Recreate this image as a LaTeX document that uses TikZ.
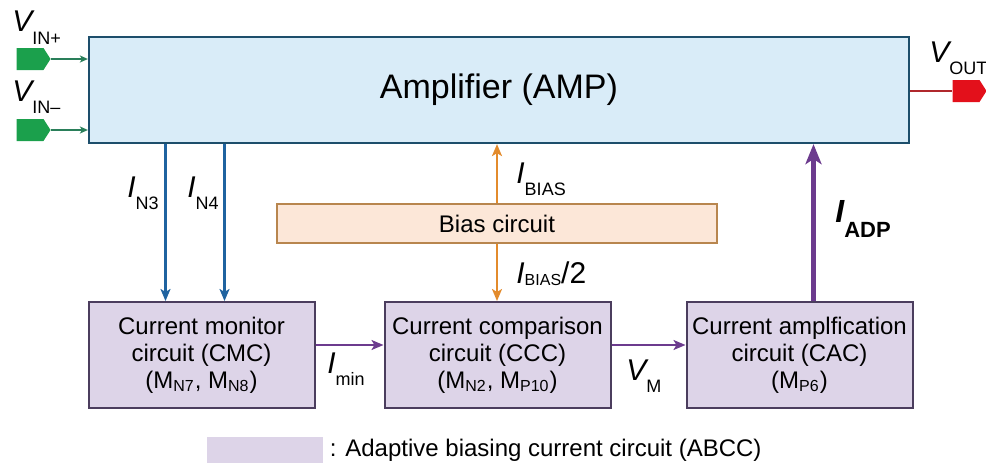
\documentclass[tikz,border=0pt]{standalone}
\usepackage{fontspec}
\setmainfont{Liberation Sans}
\usepackage{xcolor}
\usetikzlibrary{positioning,shapes.symbols,arrows.meta}
\definecolor{ampfill}{HTML}{D9ECF8}
\definecolor{ampline}{HTML}{1D4E6B}
\definecolor{padgreen}{HTML}{1BA04C}
\definecolor{wiregreen}{HTML}{2A7F5A}
\definecolor{padred}{HTML}{E3101B}
\definecolor{wirered}{HTML}{B0282C}
\definecolor{monblue}{HTML}{1F63A0}
\definecolor{biasfill}{HTML}{FCE7D8}
\definecolor{biasline}{HTML}{B8864E}
\definecolor{biasorange}{HTML}{E38B2C}
\definecolor{abccfill}{HTML}{DDD4E8}
\definecolor{abccline}{HTML}{4B3D5E}
\definecolor{abccarrow}{HTML}{6C3B8E}

% signal label: big italic letter with a lowered subscript
\newcommand{\sig}[2]{{\fontsize{15}{15}\selectfont\itshape #1}\raisebox{-6pt}{\fontsize{9}{9}\selectfont #2}}

\begin{document}
\begin{tikzpicture}[
        x=0.5pt, y=-0.5pt,
        ampbox/.style={
            draw=ampline,
            fill=ampfill,
            line width=1.1pt,
            minimum width=410pt,
            minimum height=53pt,
            font=\fontsize{17}{20}\selectfont
        },
        biasbox/.style={
            draw=biasline,
            fill=biasfill,
            line width=1pt,
            minimum width=220pt,
            minimum height=19.5pt,
            font=\fontsize{12}{14}\selectfont
        },
        abcc/.style={
            draw=abccline,
            fill=abccfill,
            line width=1pt,
            minimum width=113pt,
            minimum height=53pt,
            inner sep=2pt,
            align=center,
            font=\fontsize{12}{13.5}\selectfont
        },
        pad/.style={
            signal,
            signal to=east,
            signal pointer angle=115,
            minimum width=17pt,
            minimum height=11pt,
            inner sep=0pt
        },
        sig/.style={
            anchor=base west,
            inner sep=0pt
        },
        ref/.style={
            ->,
            >={Stealth[length=6pt,width=5pt,inset=1.5pt]},
            line width=1.1pt
        },
        wire/.style={
            ->,
            >={Stealth[length=4pt,width=3.5pt,inset=1pt]},
            line width=0.9pt
        },
        adp/.style={
            ->,
            >={Stealth[length=10pt,width=8pt,inset=2.5pt]},
            line width=2.4pt
        }
    ]

    \useasboundingbox (0,0) rectangle (986,466);

    \node[ampbox] (amp) at (499,90) {Amplifier (AMP)};
    \node[biasbox] (bias) at (497,223.5) {Bias circuit};

    \node[abcc] (cmc) at (201.5,355) {Current monitor\\circuit (CMC)\\(M\textsubscript{N7}, M\textsubscript{N8})};
    \node[abcc, right=34pt of cmc] (ccc) {Current comparison\\circuit (CCC)\\(M\textsubscript{N2}, M\textsubscript{P10})};
    \node[abcc, right=37pt of ccc] (cac) {Current amplfication\\circuit (CAC)\\(M\textsubscript{P6})};

    % input and output pads
    \node[pad, fill=padgreen] (vinp) at (30,59) {};
    \node[pad, fill=padgreen] (vinm) at (30,130) {};
    \node[pad, fill=padred] (vout) at (966,91) {};

    \draw[wire, wiregreen] (vinp.east) -- (vinp.east -| amp.west);
    \draw[wire, wiregreen] (vinm.east) -- (vinm.east -| amp.west);
    \draw[wirered, line width=1.1pt] (vout.west -| amp.east) -- (vout.west);

    % monitored currents
    \coordinate (n3) at ([xshift=39pt]cmc.north west);
    \coordinate (n4) at ([xshift=68.5pt]cmc.north west);
    \draw[ref, monblue] (n3 |- amp.south) -- (n3);
    \draw[ref, monblue] (n4 |- amp.south) -- (n4);

    % bias currents
    \draw[ref, biasorange] (bias.north) -- (bias.north |- amp.south);
    \draw[ref, biasorange] (bias.south) -- (bias.south |- ccc.north);

    % adaptive biasing chain
    \draw[ref, abccarrow] ([yshift=5pt]cmc.east) -- ([yshift=5pt]cmc.east -| ccc.west);
    \draw[ref, abccarrow] ([yshift=5pt]ccc.east) -- ([yshift=5pt]ccc.east -| cac.west);
    \draw[adp, abccarrow] ([xshift=7pt]cac.north) -- ([xshift=7pt]cac.north |- amp.south);

    % labels
    \node[sig] (lvinp) at (12,32) {\sig{V}{IN+}};
    \node[sig] (lvinm) at (12,101) {\sig{V}{IN--}};
    \node[sig] (lvout) at (929,62) {\sig{V}{OUT}};
    \node[sig] (ln3) at (127,197) {\sig{I}{N3}};
    \node[sig] (ln4) at (187,197) {\sig{I}{N4}};
    \node[sig] (lbias) at (516,183) {\sig{I}{BIAS}};
    \node[sig] (lhalf) at (516,283) {{\fontsize{15}{15}\selectfont\itshape I}\raisebox{-1pt}{\fontsize{8}{8}\selectfont BIAS}{\fontsize{15}{15}\selectfont /2}};
    \node[sig] (lmin) at (327,373) {\sig{I}{min}};
    \node[sig] (lvm) at (626,380) {\sig{V}{M}};
    \node[sig] (ladp) at (835,222) {\bfseries{\fontsize{16}{16}\selectfont\itshape I}\raisebox{-7.5pt}{\fontsize{11}{11}\selectfont ADP}};

    % legend
    \node[fill=abccfill, minimum width=58pt, minimum height=13pt, inner sep=0pt] (legend) at (265,450) {};
    \node[right=2pt of legend, inner sep=1pt, font=\fontsize{12}{14}\selectfont] (legendtext) {: Adaptive biasing current circuit (ABCC)};

    \end{tikzpicture}
\end{document}
